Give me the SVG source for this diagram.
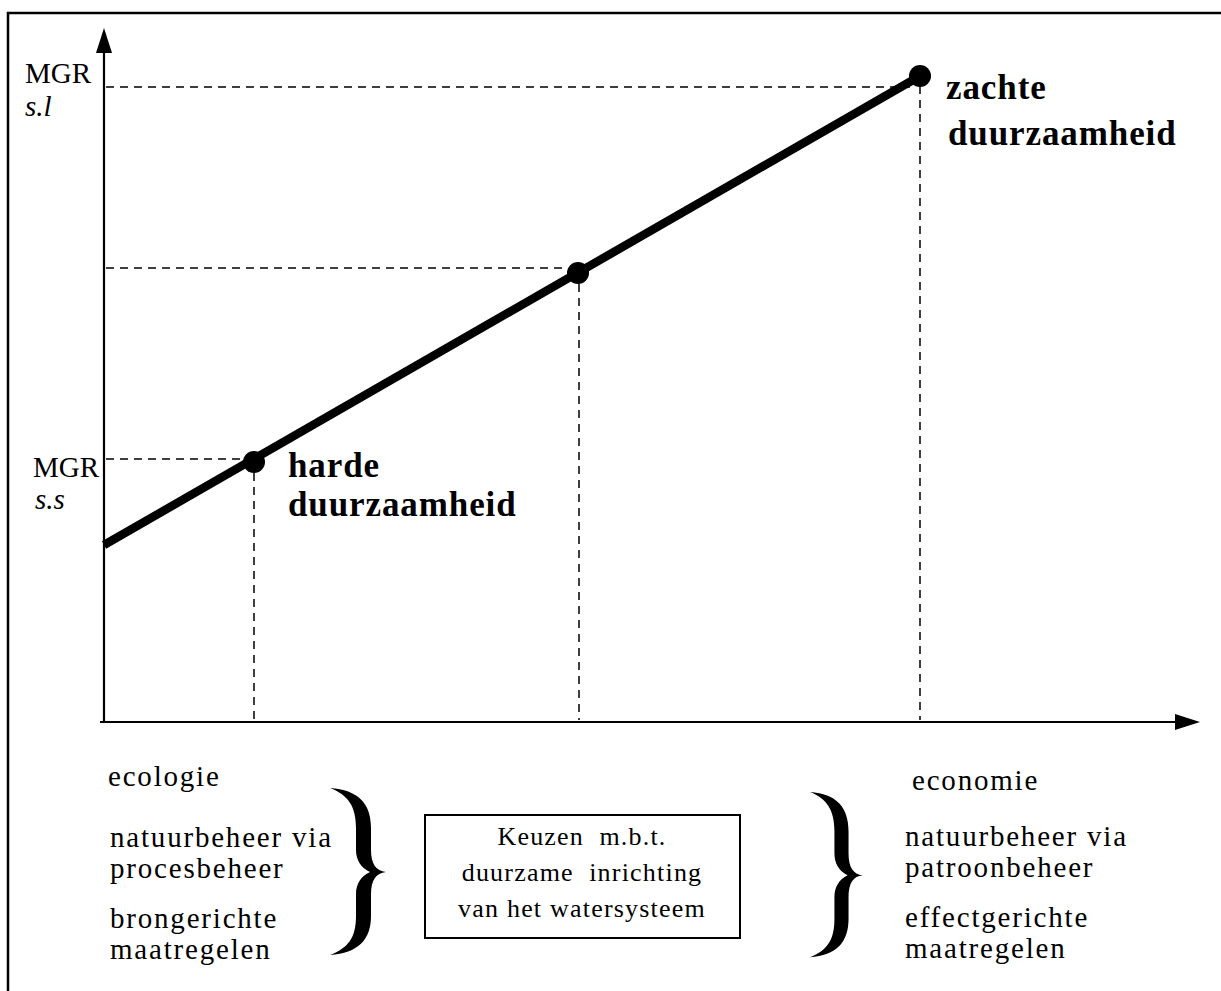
<svg xmlns="http://www.w3.org/2000/svg" width="1221" height="991" viewBox="0 0 1221 991" font-family="Liberation Serif, Tinos, Times New Roman, DejaVu Serif, serif">
<style>
.lab{font-size:29px;letter-spacing:1.8px}
.big{font-size:35px;font-weight:bold;letter-spacing:0.9px}
.mgr{font-size:29px}
.it{font-size:29px;font-style:italic}
.box{font-size:26px;letter-spacing:1.2px}
.dash{stroke:#000;stroke-width:1.5;stroke-dasharray:8 6;fill:none}
.axis{stroke:#000;stroke-width:2.2;fill:none}
</style>
<defs>
<path id="brace" d="M0,0 C28,2 41,15 41,40 L41,62 C41,76 46,83 56,84 C46,85 41,92 41,106 L41,128 C41,152 28,165 0,167 C18,160 26,150 26,128 L26,106 C26,96 31,88 40,84 C31,80 26,72 26,62 L26,40 C26,18 18,7 0,0 Z" fill="#000"/>
</defs>
<rect width="1221" height="991" fill="#fff"/>
<g id="frame">
<path d="M8,991 L8,13 L1221,13" stroke="#000" stroke-width="2.5" fill="none"/>
</g>
<g id="axes">
<line class="axis" x1="104" y1="50" x2="104" y2="722"/>
<polygon points="104,28 96,53 112,53" fill="#000"/>
<line class="axis" x1="100" y1="722" x2="1178" y2="722"/>
<polygon points="1200,722 1175,714 1175,730" fill="#000"/>
</g>
<g id="connectors">
<line class="dash" x1="106" y1="87" x2="910" y2="87"/>
<line class="dash" x1="106" y1="268" x2="568" y2="268"/>
<line class="dash" x1="106" y1="459" x2="244" y2="459"/>
<line class="dash" x1="920" y1="86" x2="920" y2="720"/>
<line class="dash" x1="579" y1="284" x2="579" y2="720"/>
<line class="dash" x1="254" y1="473" x2="254" y2="720"/>
<line x1="104" y1="545" x2="920" y2="76" stroke="#000" stroke-width="8.5"/>
</g>
<g id="node-hard">
<circle cx="254" cy="462" r="11" fill="#000"/>
<text class="big" x="288" y="477">harde</text>
<text class="big" x="288" y="516">duurzaamheid</text>
</g>
<g id="node-mid">
<circle cx="578" cy="273" r="11" fill="#000"/>
</g>
<g id="node-soft">
<circle cx="920" cy="76" r="11" fill="#000"/>
<text class="big" x="946" y="99">zachte</text>
<text class="big" x="948" y="145">duurzaamheid</text>
</g>
<g id="y-labels">
<text class="mgr" x="25" y="83">MGR</text>
<text class="it" x="25" y="116">s.l</text>
<text class="mgr" x="33" y="477">MGR</text>
<text class="it" x="35" y="509">s.s</text>
</g>
<g id="left-labels">
<text class="lab" x="108" y="786">ecologie</text>
<text class="lab" x="110" y="847">natuurbeheer via</text>
<text class="lab" x="110" y="878">procesbeheer</text>
<text class="lab" x="110" y="928">brongerichte</text>
<text class="lab" x="110" y="959">maatregelen</text>
<use href="#brace" x="330" y="788"/>
</g>
<g id="center-box">
<rect x="425" y="815" width="315" height="123" fill="none" stroke="#000" stroke-width="2"/>
<text class="box" x="582" y="845" text-anchor="middle" xml:space="preserve">Keuzen  m.b.t.</text>
<text class="box" x="582" y="881" text-anchor="middle" xml:space="preserve">duurzame  inrichting</text>
<text class="box" x="582" y="917" text-anchor="middle">van het watersysteem</text>
</g>
<g id="right-labels">
<use href="#brace" transform="translate(810,792) scale(0.94,0.99)"/>
<text class="lab" x="912" y="790">economie</text>
<text class="lab" x="905" y="846">natuurbeheer via</text>
<text class="lab" x="905" y="877">patroonbeheer</text>
<text class="lab" x="905" y="927">effectgerichte</text>
<text class="lab" x="905" y="958">maatregelen</text>
</g>
</svg>
